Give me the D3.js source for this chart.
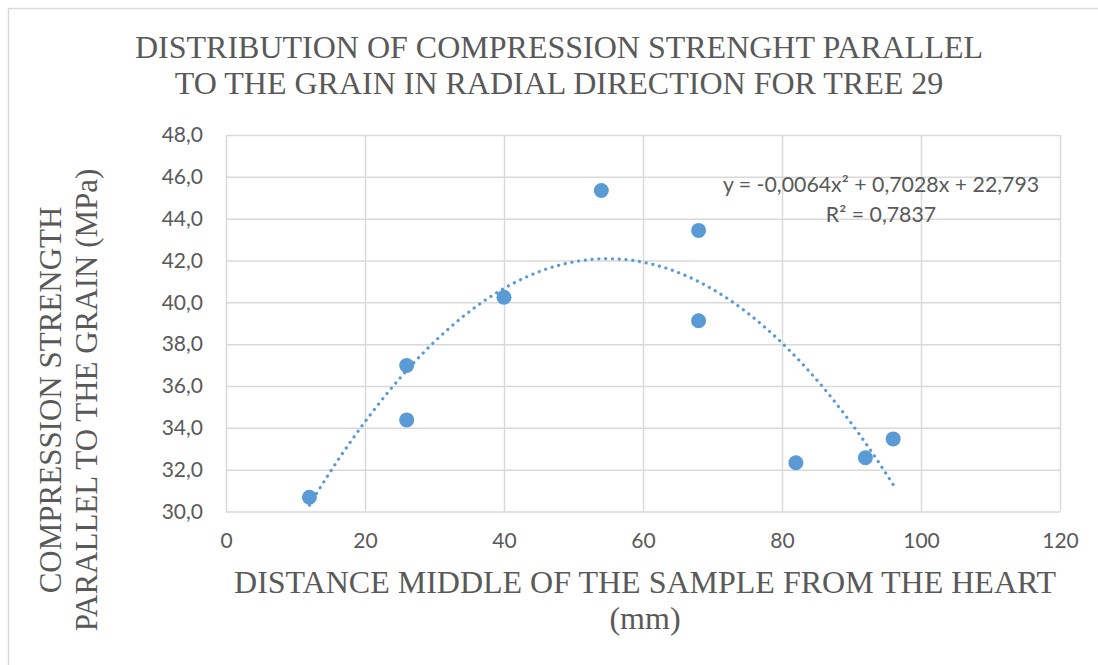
<!DOCTYPE html>
<html>
<head>
<meta charset="utf-8">
<script src="https://cdn.jsdelivr.net/npm/d3@7"></script>
<style>
  body { margin: 0; background: #fff; }
  text { fill: #595959; }
</style>
</head>
<body>
<div id="chart-area"></div>
<script>
// data
var distance = [12, 26, 26, 40, 54, 68, 68, 82, 92, 96];
var strength = [30.68, 36.98, 34.38, 40.24, 45.35, 43.44, 39.12, 32.33, 32.57, 33.47];
// polynomial trendline as printed on the chart: a*x^2 + b*x + c
var trendCoef = [-0.0064, 0.7028, 22.793];
var trendRange = [12, 96];
var xTicks = [0, 20, 40, 60, 80, 100, 120];
var yTicks = [30, 32, 34, 36, 38, 40, 42, 44, 46, 48];
var titleLines = ["DISTRIBUTION OF COMPRESSION STRENGHT PARALLEL", "TO THE GRAIN IN RADIAL DIRECTION FOR TREE 29"];
var yLabelLines = ["COMPRESSION STRENGTH", "PARALLEL TO THE GRAIN (MPa)"];
var xLabelLines = ["DISTANCE MIDDLE OF THE SAMPLE FROM THE HEART", "(mm)"];
var eqLines = ["y = -0,0064x\u00b2 + 0,7028x + 22,793", "R\u00b2 = 0,7837"];

var W = 1098, H = 665;
var margin = { left: 226, right: 38, top: 135, bottom: 153.5 },
    width = W - margin.left - margin.right,
    height = H - margin.top - margin.bottom;

var blue = "#5B9BD5", grid = "#D9D9D9";
var serif = "'Liberation Serif', 'Times New Roman', serif";
var sans = "Lato, 'Noto Sans', sans-serif";

var svg = d3.select("#chart-area")
    .append("svg")
    .attr("width", W)
    .attr("height", H);

// chart border (only top and left visible)
svg.append("rect")
    .attr("x", 8.5).attr("y", 8.5)
    .attr("width", W + 10).attr("height", H + 10)
    .attr("fill", "none")
    .attr("stroke", grid)
    .attr("stroke-width", 1.5);

var g = svg.append("g")
    .attr("transform", "translate(" + margin.left + "," + margin.top + ")");

// Scales
var x = d3.scaleLinear().domain([0, 120]).range([0, width]);
var y = d3.scaleLinear().domain([30, 48]).range([height, 0]);
var fmt = function(d) { return d3.format(".1f")(d).replace(".", ","); };

// Gridlines
g.append("g")
    .attr("class", "grid")
    .attr("transform", "translate(0," + height + ")")
    .call(d3.axisBottom(x).tickValues(xTicks).tickSize(-height).tickFormat(""))
    .call(function(s) {
        s.select(".domain").remove();
        s.selectAll("line").attr("stroke", grid).attr("stroke-width", 1.5);
    });
g.append("g")
    .attr("class", "grid")
    .call(d3.axisLeft(y).tickValues(yTicks).tickSize(-width).tickFormat(""))
    .call(function(s) {
        s.select(".domain").remove();
        s.selectAll("line").attr("stroke", grid).attr("stroke-width", 1.5);
    });

// X-axis labels
var xAxis = g.append("g")
    .attr("transform", "translate(0," + height + ")")
    .call(d3.axisBottom(x).tickValues(xTicks).tickSize(0).tickPadding(22));
xAxis.select(".domain").remove();
xAxis.selectAll("text")
    .attr("font-family", sans)
    .attr("font-size", "21px")
    .attr("fill", "#595959");

// Y-axis labels
var yAxis = g.append("g")
    .call(d3.axisLeft(y).tickValues(yTicks).tickSize(0).tickPadding(23).tickFormat(fmt));
yAxis.select(".domain").remove();
yAxis.selectAll("text")
    .attr("font-family", sans)
    .attr("font-size", "21px")
    .attr("fill", "#595959");

// Trendline
var trendX = d3.range(trendRange[0], trendRange[1] + 0.01, 0.5);
var line = d3.line()
    .x(function(d) { return x(d); })
    .y(function(d) { return y(trendCoef[0] * d * d + trendCoef[1] * d + trendCoef[2]); });
g.append("path")
    .attr("d", line(trendX))
    .attr("fill", "none")
    .attr("stroke", blue)
    .attr("stroke-width", 3.2)
    .attr("stroke-linecap", "round")
    .attr("stroke-dasharray", "0.1 6.7");

// Points
g.selectAll("circle")
    .data(distance)
    .enter().append("circle")
    .attr("cx", function(d) { return x(d); })
    .attr("cy", function(d, i) { return y(strength[i]); })
    .attr("r", 7.5)
    .attr("fill", blue);

// Equation
svg.append("text")
    .attr("x", 881)
    .attr("y", 192)
    .attr("text-anchor", "middle")
    .attr("font-family", sans)
    .attr("font-size", "21.3px")
    .selectAll("tspan")
    .data(eqLines)
    .enter().append("tspan")
    .attr("x", 881)
    .attr("dy", function(d, i) { return i ? 30 : 0; })
    .text(function(d) { return d; });

// Title
svg.append("text")
    .attr("x", 559)
    .attr("y", 58)
    .attr("text-anchor", "middle")
    .attr("font-family", serif)
    .attr("font-size", "32px")
    .selectAll("tspan")
    .data(titleLines)
    .enter().append("tspan")
    .attr("x", 559)
    .attr("dy", function(d, i) { return i ? 35.5 : 0; })
    .text(function(d) { return d; });

// X label
svg.append("text")
    .attr("x", 645)
    .attr("y", 593)
    .attr("text-anchor", "middle")
    .attr("font-family", serif)
    .attr("font-size", "32px")
    .selectAll("tspan")
    .data(xLabelLines)
    .enter().append("tspan")
    .attr("x", 645)
    .attr("dy", function(d, i) { return i ? 35.5 : 0; })
    .text(function(d) { return d; });

// Y label
svg.append("text")
    .attr("transform", "translate(61,400) rotate(-90)")
    .attr("text-anchor", "middle")
    .attr("font-family", serif)
    .attr("font-size", "31px")
    .selectAll("tspan")
    .data(yLabelLines)
    .enter().append("tspan")
    .attr("x", 0)
    .attr("dy", function(d, i) { return i ? 35.5 : 0; })
    .text(function(d) { return d; });
</script>
</body>
</html>
